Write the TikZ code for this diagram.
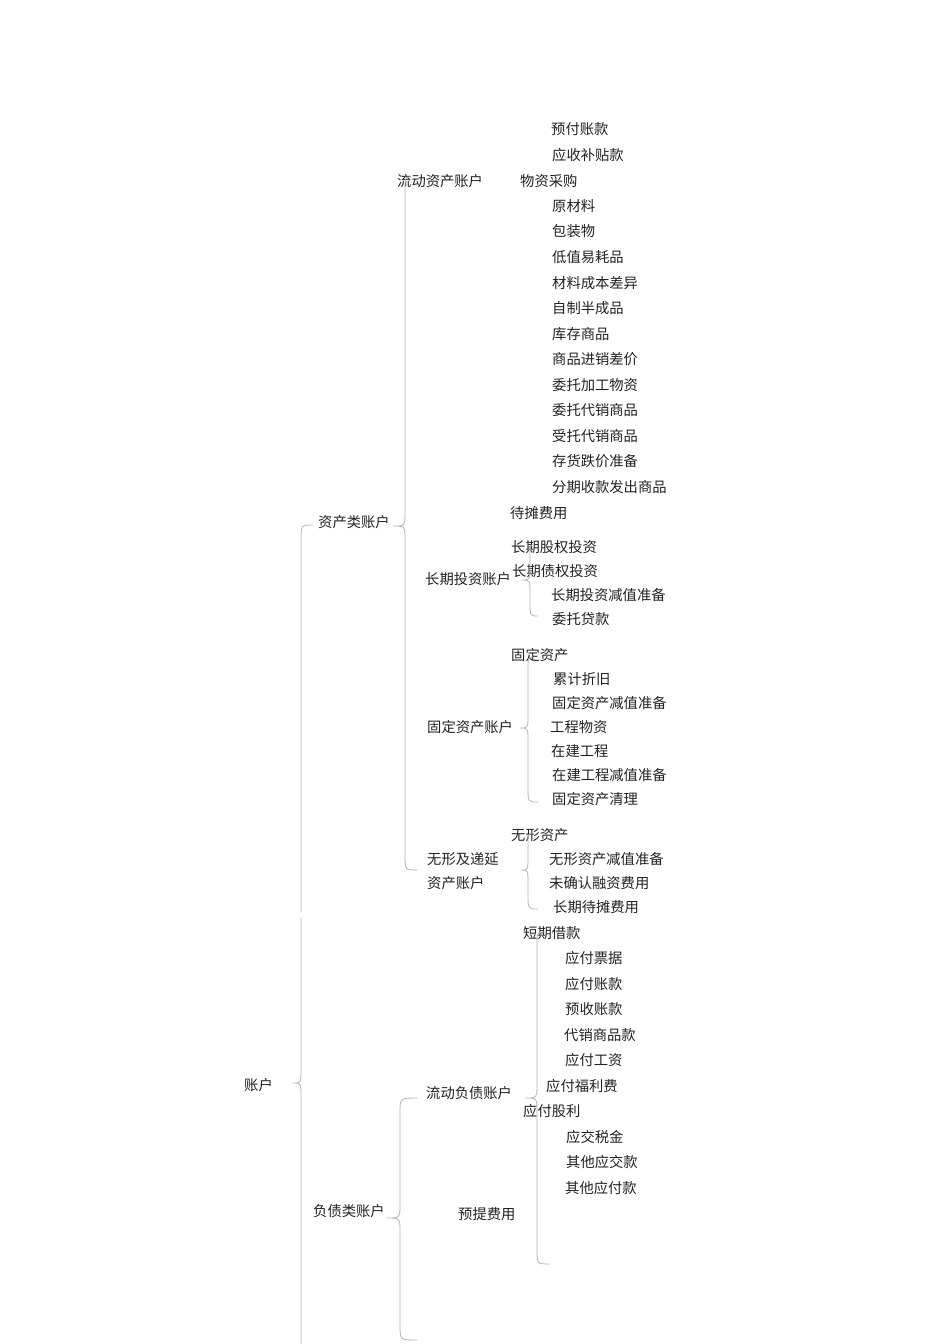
\documentclass[tikz,border=0pt]{standalone}
\usepackage{fontspec}
\newfontfamily\cjk{Noto Sans CJK SC}
\definecolor{bcol}{HTML}{B4B4B4}
\definecolor{tcol}{HTML}{222222}
\tikzset{
  lbl/.style={anchor=west,inner sep=0pt,text=tcol,font=\cjk\fontsize{14.3}{15}\selectfont},
  bline/.style={draw=bcol,line width=0.8pt}
}
\newcommand{\brc}[7]{\draw[bline] (#6,#2) .. controls (#1,#2) .. (#1,#2+15) -- (#1,#3-14) .. controls (#1,#3) .. (#5,#3) .. controls (#1,#3) .. (#1,#3+14) -- (#1,#4-15) .. controls (#1,#4) .. (#7,#4);}
\begin{document}
\begin{tikzpicture}[x=1pt,y=-1pt]
\clip (0,0) rectangle (950,1344);
\fill[white] (0,0) rectangle (950,1344);
% root
\node[lbl] (root) at (244,1085) {账户};
\node[lbl] (zc) at (318,522) {资产类账户};
\node[lbl] (fz) at (313,1211) {负债类账户};
% assets level 2
\node[lbl] (ldzc) at (397,181) {流动资产账户};
\node[lbl] (cqtz) at (425,579) {长期投资账户};
\node[lbl] (gdzc) at (427,727) {固定资产账户};
\node[lbl] (wxdy) at (427,859) {无形及递延};
\node[lbl] (wxdy2) at (427,883) {资产账户};
% current assets items
\node[lbl] (a1) at (551,129) {预付账款};
\node[lbl] (a2) at (552,155) {应收补贴款};
\node[lbl] (a3) at (520,181) {物资采购};
\node[lbl] (a4) at (552,206) {原材料};
\node[lbl] (a5) at (552,231) {包装物};
\node[lbl] (a6) at (552,257) {低值易耗品};
\node[lbl] (a7) at (552,283) {材料成本差异};
\node[lbl] (a8) at (552,308) {自制半成品};
\node[lbl] (a9) at (552,334) {库存商品};
\node[lbl] (a10) at (552,359) {商品进销差价};
\node[lbl] (a11) at (552,385) {委托加工物资};
\node[lbl] (a12) at (552,410) {委托代销商品};
\node[lbl] (a13) at (552,436) {受托代销商品};
\node[lbl] (a14) at (552,461) {存货跌价准备};
\node[lbl] (a15) at (552,487) {分期收款发出商品};
\node[lbl] (a16) at (510,513) {待摊费用};
% long-term investment
\node[lbl] (b1) at (511,547) {长期股权投资};
\node[lbl] (b2) at (512,571) {长期债权投资};
\node[lbl] (b3) at (551,595) {长期投资减值准备};
\node[lbl] (b4) at (552,619) {委托贷款};
% fixed assets
\node[lbl] (c1) at (511,655) {固定资产};
\node[lbl] (c2) at (553,679) {累计折旧};
\node[lbl] (c3) at (552,703) {固定资产减值准备};
\node[lbl] (c4) at (550,727) {工程物资};
\node[lbl] (c5) at (551,751) {在建工程};
\node[lbl] (c6) at (552,775) {在建工程减值准备};
\node[lbl] (c7) at (552,799) {固定资产清理};
% intangible
\node[lbl] (d1) at (511,835) {无形资产};
\node[lbl] (d2) at (549,859) {无形资产减值准备};
\node[lbl] (d3) at (549,883) {未确认融资费用};
\node[lbl] (d4) at (553,907) {长期待摊费用};
% liabilities
\node[lbl] (ldfz) at (426,1093) {流动负债账户};
\node[lbl] (e1) at (523,933) {短期借款};
\node[lbl] (e2) at (565,958) {应付票据};
\node[lbl] (e3) at (565,984) {应付账款};
\node[lbl] (e4) at (565,1009) {预收账款};
\node[lbl] (e5) at (564,1035) {代销商品款};
\node[lbl] (e6) at (565,1060) {应付工资};
\node[lbl] (e7) at (546,1086) {应付福利费};
\node[lbl] (e8) at (523,1111) {应付股利};
\node[lbl] (e9) at (566,1137) {应交税金};
\node[lbl] (e10) at (566,1162) {其他应交款};
\node[lbl] (e11) at (565,1188) {其他应付款};
\node[lbl] (ytfy) at (458,1214) {预提费用};
% braces
% root brace (two pieces with a small gap)
\draw[bline] (313,525) .. controls (301,525) .. (301,540) -- (301,912);
\draw[bline] (301,918) -- (301,1069) .. controls (301,1083) .. (293,1083) .. controls (301,1083) .. (301,1097) -- (301,1360);
% assets
\brc{405}{177}{526}{870}{393}{410}{417}
% long-term investment
\brc{530}{545}{580}{616}{522}{533}{538}
% fixed assets
\brc{528}{657}{728}{802}{520}{533}{538}
% intangible
\brc{528}{833}{870}{909}{521}{533}{538}
% current liabilities
\brc{537}{932}{1098}{1264}{525}{545}{550}
% liabilities
\brc{400}{1098}{1218}{1340}{387}{417}{417}
\end{tikzpicture}
\end{document}
